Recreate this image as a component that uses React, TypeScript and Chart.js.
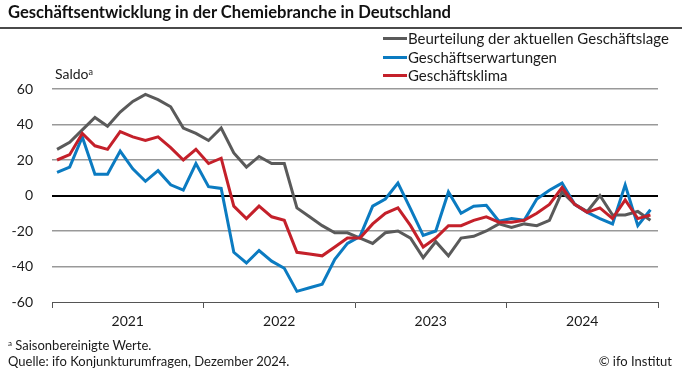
import React, { useEffect, useRef } from "react";
import { Chart, registerables } from "chart.js";

Chart.register(...registerables);

const years = ["2021", "2022", "2023", "2024"];

// Monthly values, Jan 2021 – Dec 2024 (Saldo)
const lage = [
  26, 30, 37, 44, 39, 47, 53, 57, 54, 50, 38, 35,
  31, 38, 24, 16, 22, 18, 18, -7, -12, -17, -21, -21,
  -24, -27, -21, -20, -24, -35, -26, -34, -24, -23, -20, -16,
  -18, -16, -17, -14, 2, -5, -9, 0, -11, -11, -9, -14,
];
const erwartungen = [
  13, 16, 33, 12, 12, 25, 15, 8, 14, 6, 3, 18,
  5, 4, -32, -38, -31, -37, -41, -54, -52, -50, -36, -27,
  -23, -6, -2, 7, -7.5, -22.5, -20, 2, -10, -6, -5.5, -14.5,
  -13, -14, -2, 3, 7, -5, -9.5, -13, -16, 6, -17, -8,
];
const klima = [
  20, 23, 35, 28, 26, 36, 33, 31, 33, 27, 20, 26,
  18, 21, -6, -13, -6, -12, -14, -32, -33, -34, -29, -24,
  -24, -16, -10, -7, -17, -29, -24, -17, -17, -14, -12, -15,
  -15, -14, -10, -5, 4.5, -5, -9.5, -7, -13, -2.5, -13, -11,
];

const seriesNames = [
  "Beurteilung der aktuellen Geschäftslage",
  "Geschäftserwartungen",
  "Geschäftsklima",
];
const seriesColors = ["#5a5a5a", "#0b7bc1", "#c4202a"];

const FONT = "Lato, 'Noto Sans', sans-serif";

const toPoints = (arr: number[]) => arr.map((v, i) => ({ x: i + 0.4, y: v }));

export default function App() {
  const ref = useRef<HTMLCanvasElement | null>(null);

  useEffect(() => {
    if (!ref.current) return;
    const chart = new Chart(ref.current, {
      type: "line",
      data: {
        datasets: [
          { label: seriesNames[0], data: toPoints(lage), borderColor: seriesColors[0], order: 2 },
          { label: seriesNames[1], data: toPoints(erwartungen), borderColor: seriesColors[1], order: 1 },
          { label: seriesNames[2], data: toPoints(klima), borderColor: seriesColors[2], order: 0 },
        ].map((d) => ({ ...d, borderWidth: 3, pointRadius: 0, tension: 0, fill: false })),
      },
      options: {
        animation: false,
        responsive: false,
        devicePixelRatio: 1,
        layout: { padding: { left: 0, right: 24, top: 89, bottom: 0 } },
        plugins: { legend: { display: false }, tooltip: { enabled: false } },
        scales: {
          x: {
            type: "linear",
            min: 0,
            max: 48,
            afterBuildTicks: (s: any) => {
              const t = [];
              for (let v = 0; v <= 48; v += 6) t.push({ value: v });
              s.ticks = t;
            },
            ticks: {
              autoSkip: false,
              maxRotation: 0,
              padding: 5,
              color: "#1a1a1a",
              font: { family: FONT, size: 14 },
              callback: (v: any) => (v % 12 === 6 ? years[(v - 6) / 12] : ""),
            },
            grid: {
              drawOnChartArea: false,
              drawTicks: true,
              tickLength: 6,
              lineWidth: 1,
              color: (ctx: any) => (ctx.tick && ctx.tick.value % 12 === 0 ? "#555" : "rgba(0,0,0,0)"),
            },
            border: { display: true, color: "#555", width: 1 },
            afterFit: (s: any) => {
              s.height = 71;
            },
          },
          y: {
            min: -60,
            max: 60,
            ticks: {
              stepSize: 20,
              padding: 19,
              color: "#1a1a1a",
              font: { family: FONT, size: 14 },
            },
            grid: {
              drawTicks: false,
              color: (ctx: any) =>
                ctx.tick && ctx.tick.value === 0
                  ? "#000"
                  : ctx.tick && ctx.tick.value === -60
                  ? "rgba(0,0,0,0)"
                  : "#999",
              lineWidth: (ctx: any) => (ctx.tick && ctx.tick.value === 0 ? 2 : 1.5),
            },
            border: { display: false },
            afterFit: (s: any) => {
              s.width = 52;
            },
          },
        },
      },
    });
    return () => chart.destroy();
  }, []);

  const text: React.CSSProperties = { position: "absolute", fontFamily: FONT, color: "#1a1a1a", whiteSpace: "nowrap" };

  return (
    <div style={{ position: "absolute", left: 0, top: 0, width: 682, height: 373, background: "#fff", overflow: "hidden" }}>
      <canvas ref={ref} width={682} height={373} style={{ position: "absolute", left: 0, top: 0, width: 682, height: 373 }} />
      <div style={{ ...text, left: 8, top: 2, fontSize: 16.6, fontWeight: 700, lineHeight: "20px", color: "#111" }}>
        Geschäftsentwicklung in der Chemiebranche in Deutschland
      </div>
      <div style={{ position: "absolute", left: 0, top: 27, width: 682, height: 2, background: "#4a4a4a" }} />
      {seriesNames.map((n, i) => (
        <div key={n} style={{ ...text, left: 383, top: 29 + i * 18.5, height: 19, display: "flex", alignItems: "center", fontSize: 15, lineHeight: "19px" }}>
          <span style={{ display: "inline-block", width: 24, height: 3, background: seriesColors[i], marginRight: 1 }} />
          <span>{n}</span>
        </div>
      ))}
      <div style={{ ...text, left: 55, top: 63, fontSize: 14, lineHeight: "18px" }}>
        Saldo<sup style={{ fontSize: 9, verticalAlign: "4px" }}>a</sup>
      </div>
      <div style={{ ...text, left: 8, top: 335, fontSize: 13, lineHeight: "16px" }}>
        <sup style={{ fontSize: 8, verticalAlign: "4px" }}>a</sup> Saisonbereinigte Werte.
      </div>
      <div style={{ ...text, left: 8, top: 353, fontSize: 13, lineHeight: "16px" }}>
        Quelle: ifo Konjunkturumfragen, Dezember 2024.
      </div>
      <div style={{ ...text, right: 10, top: 353, fontSize: 13, lineHeight: "16px" }}>© ifo Institut</div>
    </div>
  );
}
